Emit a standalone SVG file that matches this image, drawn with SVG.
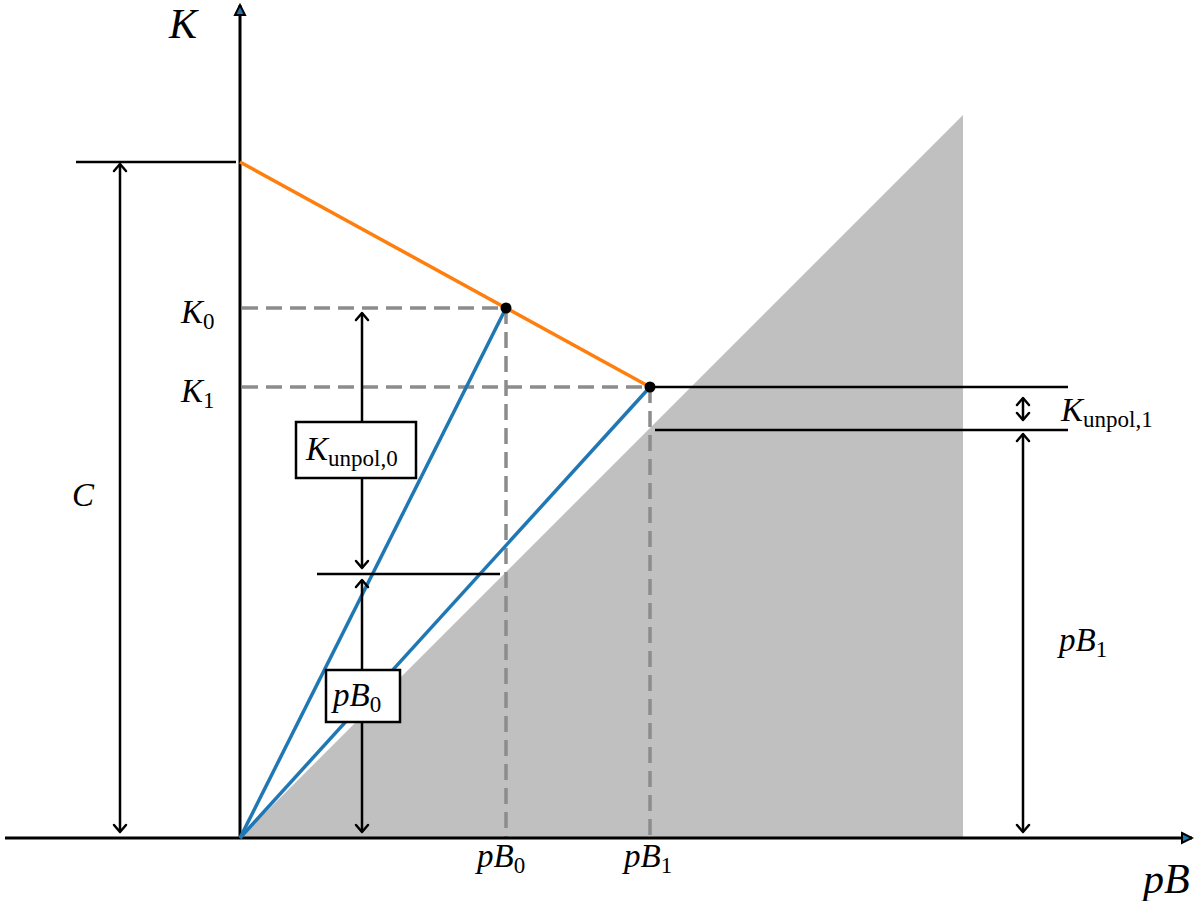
<svg xmlns="http://www.w3.org/2000/svg" width="1200" height="901" viewBox="0 0 1200 901">
<style>
.ax{stroke:#000;stroke-width:3;fill:none}
.bl{stroke:#000;stroke-width:2.5;fill:none}
.dash{stroke:#8c8c8c;stroke-width:3.5;stroke-dasharray:16,8;fill:none}
.blue{stroke:#1f77b4;stroke-width:3.5;fill:none}
.orange{stroke:#ff7f0e;stroke-width:3.5;fill:none}
.arr{stroke:#000;stroke-width:2.5;fill:none;marker-start:url(#ah);marker-end:url(#ah)}
text{font-family:"Liberation Serif","DejaVu Serif",serif;fill:#000}
.it{font-style:italic}
.sub{font-size:23px}
.box{fill:#fff;stroke:#000;stroke-width:2.5}
</style>
<defs>
<marker id="ah" viewBox="-10 -8 12 16" refX="0" refY="0" markerWidth="12" markerHeight="16" markerUnits="userSpaceOnUse" orient="auto-start-reverse">
<path d="M-7,-6 L0,0 L-7,6" fill="none" stroke="#000" stroke-width="2.5" stroke-linecap="round" stroke-linejoin="round"/>
</marker>
<marker id="axh" viewBox="-12 -8 14 16" refX="0" refY="0" markerWidth="14" markerHeight="16" markerUnits="userSpaceOnUse" orient="auto">
<path d="M-10,-5 L0,0 L-10,5 Z" fill="#1f77b4" stroke="#000" stroke-width="2"/>
</marker>
</defs>
<rect width="1200" height="901" fill="#fff"/>
<g id="shade"><polygon points="240,838 963,115 963,838" fill="#c0c0c0"/></g>
<g id="guides">
<line class="dash" x1="242" y1="308" x2="506" y2="308"/>
<line class="dash" x1="506" y1="308" x2="506" y2="838"/>
<line class="dash" x1="242" y1="387" x2="650" y2="387"/>
<line class="dash" x1="650" y1="387" x2="650" y2="838"/>
</g>
<g id="axes">
<line class="ax" x1="5" y1="838" x2="1192" y2="838" marker-end="url(#axh)"/>
<line class="ax" x1="240" y1="838" x2="240" y2="5" marker-end="url(#axh)"/>
<text class="it" x="169" y="38" font-size="42">K</text>
<text class="it" x="1143" y="893" font-size="42">pB</text>
</g>
<g id="curves">
<line class="orange" x1="240" y1="162" x2="650" y2="387"/>
<line class="blue" x1="240" y1="838" x2="506" y2="308"/>
<line class="blue" x1="240" y1="838" x2="650" y2="387"/>
<circle cx="506" cy="308" r="5.5" fill="#000"/>
<circle cx="650" cy="387" r="5.5" fill="#000"/>
</g>
<g id="connectors">
<line class="bl" x1="76" y1="162" x2="236" y2="162"/>
<line class="arr" x1="120" y1="164" x2="120" y2="832"/>
<line class="bl" x1="317" y1="574" x2="500" y2="574"/>
<line class="arr" x1="362" y1="313" x2="362" y2="568"/>
<line class="arr" x1="362" y1="580" x2="362" y2="832"/>
<line class="bl" x1="650" y1="387" x2="1068" y2="387"/>
<line class="bl" x1="655" y1="430" x2="1068" y2="430"/>
<line class="arr" x1="1023" y1="398" x2="1023" y2="420"/>
<line class="arr" x1="1023" y1="434" x2="1023" y2="832"/>
</g>
<g id="labels">
<text class="it" x="72" y="506" font-size="33">C</text>
<text x="181" y="323" font-size="33"><tspan class="it">K</tspan><tspan class="sub" dy="6">0</tspan></text>
<text x="181" y="402" font-size="33"><tspan class="it">K</tspan><tspan class="sub" dy="6">1</tspan></text>
<text x="477" y="867" font-size="33"><tspan class="it">pB</tspan><tspan class="sub" dy="6">0</tspan></text>
<text x="624" y="867" font-size="33"><tspan class="it">pB</tspan><tspan class="sub" dy="6">1</tspan></text>
<text x="1059" y="651" font-size="33"><tspan class="it">pB</tspan><tspan class="sub" dy="6">1</tspan></text>
<text x="1061" y="421" font-size="33"><tspan class="it">K</tspan><tspan class="sub" dy="6">unpol,1</tspan></text>
</g>
<g id="box-kunpol0">
<rect class="box" x="296" y="422" width="120" height="56"/>
<text x="306" y="460" font-size="33"><tspan class="it">K</tspan><tspan class="sub" dy="6">unpol,0</tspan></text>
</g>
<g id="box-pb0">
<rect class="box" x="326" y="670" width="74" height="52"/>
<text x="333" y="706" font-size="33"><tspan class="it">pB</tspan><tspan class="sub" dy="6">0</tspan></text>
</g>
</svg>
